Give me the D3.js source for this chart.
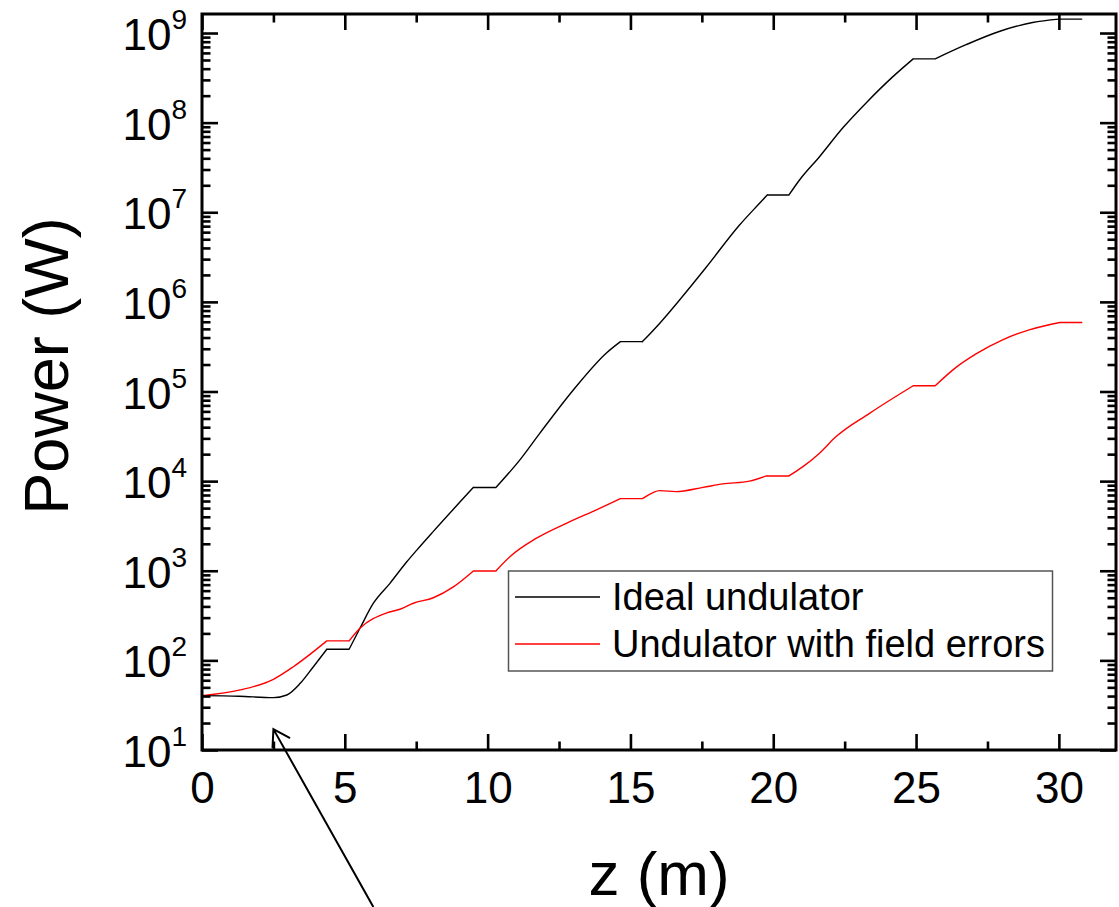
<!DOCTYPE html>
<html>
<head>
<meta charset="utf-8">
<script src="https://cdn.jsdelivr.net/npm/d3@7"></script>
<style>
  body { margin: 0; background: #fff; }
  svg { display: block; font-family: "Liberation Sans", Arial, sans-serif; }
</style>
</head>
<body>
<div id="container"></div>
<script>
// Chart data (z in metres, power in watts)
const zIdeal = [0, 1.3, 2.5, 2.97, 3.44, 3.9, 4.37, 5.15, 5.53, 6.0, 6.58, 7.17, 7.52, 8.1, 9.5, 10.29,
  11.13, 11.83, 13.0, 14.16, 14.65, 15.42, 16.02, 16.72, 17.66, 18.82, 19.52, 19.79, 20.55,
  20.92, 21.62, 22.43, 23.25, 24.18, 24.9, 25.67, 26.75, 27.91, 29.08, 30.0, 30.8];
const powerIdeal = [40.4, 39.8, 38.4, 41.1, 55.5, 85, 133, 133, 228, 434, 724, 1260, 1700, 2750, 8500, 8500,
  17260, 34300, 104000, 269000, 360000, 360000, 575000, 1.05e6, 2.45e6, 7.2e6, 1.26e7, 1.56e7, 1.56e7,
  2.29e7, 4.17e7, 8.7e7, 1.66e8, 3.24e8, 5.15e8, 5.15e8, 7.41e8, 1.04e9, 1.31e9, 1.43e9, 1.43e9];

const zErrors = [0, 1.34, 2.5, 3.2, 4.37, 5.15, 5.53, 6.47, 6.93, 7.4, 8.1, 8.8, 9.5, 10.29,
  10.78, 11.71, 12.88, 13.81, 14.65, 15.42, 15.79, 16.02, 16.6, 17.54, 18.24, 19.17, 19.76, 20.55,
  21.04, 21.62, 22.2, 23.37, 24.9, 25.67, 26.4, 27.1, 28.03, 28.96, 30.03, 30.8];
const powerErrors = [40.4, 46.8, 61.5, 85, 165, 165, 228, 339, 372, 434, 500, 660, 995, 995,
  1435, 2307, 3530, 4780, 6380, 6380, 7450, 7830, 7640, 8510, 9310, 10000, 11430, 11430,
  14500, 20500, 31400, 57100, 116000, 116000, 186000, 263000, 377000, 488000, 589000, 589000];

const seriesNames = ["Ideal undulator", "Undulator with field errors"];
const seriesColors = ["#000000", "#ff0000"];

const xMajorTicks = [0, 5, 10, 15, 20, 25, 30];
const xMinorTicks = [2.5, 7.5, 12.5, 17.5, 22.5, 27.5];
const yExponents = [1, 2, 3, 4, 5, 6, 7, 8, 9];

// annotation arrow: tip and tail in data coordinates
const arrowTip = [2.5, 17.1];
const arrowTail = [6.0, 0.177];

// Chart dimensions
const width = 1119;
const height = 907;
const marginTop = 14;
const marginRight = 3;
const marginBottom = 157;
const marginLeft = 202;

const x = d3.scaleLinear()
    .domain([0, 32])
    .range([marginLeft, width - marginRight]);

const y = d3.scaleLog()
    .domain([10, 1.63e9])
    .range([height - marginBottom, marginTop]);

const yMajor = yExponents.map(e => Math.pow(10, e));
const yMinor = [];
yExponents.forEach(e => {
    for (let k = 2; k <= 9; k++) {
        const v = k * Math.pow(10, e);
        if (v < 1.63e9) yMinor.push(v);
    }
});

const svg = d3.select("#container").append("svg")
    .attr("width", width)
    .attr("height", height)
    .attr("viewBox", [0, 0, width, height]);

// clip for the curves
svg.append("clipPath").attr("id", "plot-clip")
  .append("rect")
    .attr("x", marginLeft)
    .attr("y", marginTop)
    .attr("width", width - marginRight - marginLeft)
    .attr("height", height - marginBottom - marginTop);

const smoothLine = d3.line()
    .x(d => x(d[0]))
    .y(d => y(d[1]))
    .curve(d3.curveMonotoneX);
const flatLine = d3.line()
    .x(d => x(d[0]))
    .y(d => y(d[1]));

// Split a series at its flat steps so the steps keep sharp corners
function splitAtSteps(data) {
    const pieces = [];
    let cur = [data[0]];
    for (let i = 1; i < data.length; i++) {
        if (data[i][1] === data[i - 1][1]) {
            if (cur.length > 1) pieces.push({ pts: cur, flat: false });
            pieces.push({ pts: [data[i - 1], data[i]], flat: true });
            cur = [data[i]];
        } else {
            cur.push(data[i]);
        }
    }
    if (cur.length > 1) pieces.push({ pts: cur, flat: false });
    return pieces;
}

const dataIdeal = d3.zip(zIdeal, powerIdeal);
const dataErrors = d3.zip(zErrors, powerErrors);

[dataIdeal, dataErrors].forEach((data, i) => {
    const d = splitAtSteps(data)
        .map(p => (p.flat ? flatLine : smoothLine)(p.pts))
        .join("");
    svg.append("path")
        .attr("clip-path", "url(#plot-clip)")
        .attr("fill", "none")
        .attr("stroke", seriesColors[i])
        .attr("stroke-width", 1.4)
        .attr("stroke-linejoin", "round")
        .attr("stroke-linecap", "round")
        .attr("d", d);
});

// Axes: ticks pointing inward on all four sides
function styleTicks(g) {
    g.select(".domain").remove();
    g.selectAll(".tick line").attr("stroke", "#000").attr("stroke-width", 2.6);
}

const x0 = marginLeft, x1 = width - marginRight;
const y0 = height - marginBottom, y1 = marginTop;

// bottom
svg.append("g")
    .attr("transform", `translate(0,${y0})`)
    .call(d3.axisBottom(x).tickValues(xMajorTicks).tickSize(-16).tickFormat(d3.format("d")))
    .call(styleTicks)
    .call(g => g.selectAll(".tick text")
        .attr("fill", "#000")
        .attr("font-size", 44)
        .attr("font-family", "Liberation Sans, Arial, sans-serif")
        .attr("dy", null)
        .attr("y", 53));
svg.append("g")
    .attr("transform", `translate(0,${y0})`)
    .call(d3.axisBottom(x).tickValues(xMinorTicks).tickSize(-8.5).tickFormat(""))
    .call(styleTicks);

// top
svg.append("g")
    .attr("transform", `translate(0,${y1})`)
    .call(d3.axisTop(x).tickValues(xMajorTicks).tickSize(-16).tickFormat(""))
    .call(styleTicks);
svg.append("g")
    .attr("transform", `translate(0,${y1})`)
    .call(d3.axisTop(x).tickValues(xMinorTicks).tickSize(-8.5).tickFormat(""))
    .call(styleTicks);

// left
svg.append("g")
    .attr("transform", `translate(${x0},0)`)
    .call(d3.axisLeft(y).tickValues(yMajor).tickSize(-16).tickFormat(""))
    .call(styleTicks);
svg.append("g")
    .attr("transform", `translate(${x0},0)`)
    .call(d3.axisLeft(y).tickValues(yMinor).tickSize(-8.5).tickFormat(""))
    .call(styleTicks);

// right
svg.append("g")
    .attr("transform", `translate(${x1},0)`)
    .call(d3.axisRight(y).tickValues(yMajor).tickSize(-16).tickFormat(""))
    .call(styleTicks);
svg.append("g")
    .attr("transform", `translate(${x1},0)`)
    .call(d3.axisRight(y).tickValues(yMinor).tickSize(-8.5).tickFormat(""))
    .call(styleTicks);

// y tick labels with superscript exponents
const yLabels = svg.append("g")
    .attr("font-size", 44)
    .attr("fill", "#000")
    .attr("text-anchor", "end");
yExponents.forEach(e => {
    const t = yLabels.append("text")
        .attr("x", x0 - 15)
        .attr("y", y(Math.pow(10, e)) + 17);
    t.append("tspan").text("10");
    t.append("tspan")
        .attr("font-size", 28)
        .attr("dy", -21)
        .text(e);
});

// frame
svg.append("rect")
    .attr("x", x0)
    .attr("y", y1)
    .attr("width", x1 - x0)
    .attr("height", y0 - y1)
    .attr("fill", "none")
    .attr("stroke", "#000")
    .attr("stroke-width", 3);

// axis titles
svg.append("text")
    .attr("x", (x0 + x1) / 2)
    .attr("y", 895)
    .attr("text-anchor", "middle")
    .attr("font-size", 62)
    .attr("fill", "#000")
    .text("z (m)");

svg.append("text")
    .attr("transform", `translate(68,366) rotate(-90)`)
    .attr("text-anchor", "middle")
    .attr("font-size", 63)
    .attr("fill", "#000")
    .text("Power (W)");

// legend
const legend = svg.append("g");
legend.append("rect")
    .attr("x", 508.5)
    .attr("y", 571)
    .attr("width", 544)
    .attr("height", 100)
    .attr("fill", "#fff")
    .attr("stroke", "#555")
    .attr("stroke-width", 1.5);
seriesNames.forEach((name, i) => {
    const ly = 597 + i * 47;
    legend.append("line")
        .attr("x1", 515).attr("x2", 600)
        .attr("y1", ly).attr("y2", ly)
        .attr("stroke", seriesColors[i])
        .attr("stroke-width", 1.4);
    legend.append("text")
        .attr("x", 612)
        .attr("y", ly + 13)
        .attr("font-size", 38)
        .attr("fill", "#000")
        .text(name);
});

// annotation arrow pointing at the dip of the ideal curve
const tipPx = [x(arrowTip[0]), y(arrowTip[1])];
const tailPx = [x(arrowTail[0]), y(arrowTail[1])];
const ang = Math.atan2(tailPx[1] - tipPx[1], tailPx[0] - tipPx[0]);
const headLen = 19, headAng = 32 * Math.PI / 180;
const wing = s => [tipPx[0] + headLen * Math.cos(ang + s * headAng), tipPx[1] + headLen * Math.sin(ang + s * headAng)];
svg.append("path")
    .attr("d", d3.line()([tailPx, tipPx]) + "M" + wing(-1) + "L" + tipPx + "L" + wing(1))
    .attr("fill", "none")
    .attr("stroke", "#000")
    .attr("stroke-width", 2);
</script>
</body>
</html>
